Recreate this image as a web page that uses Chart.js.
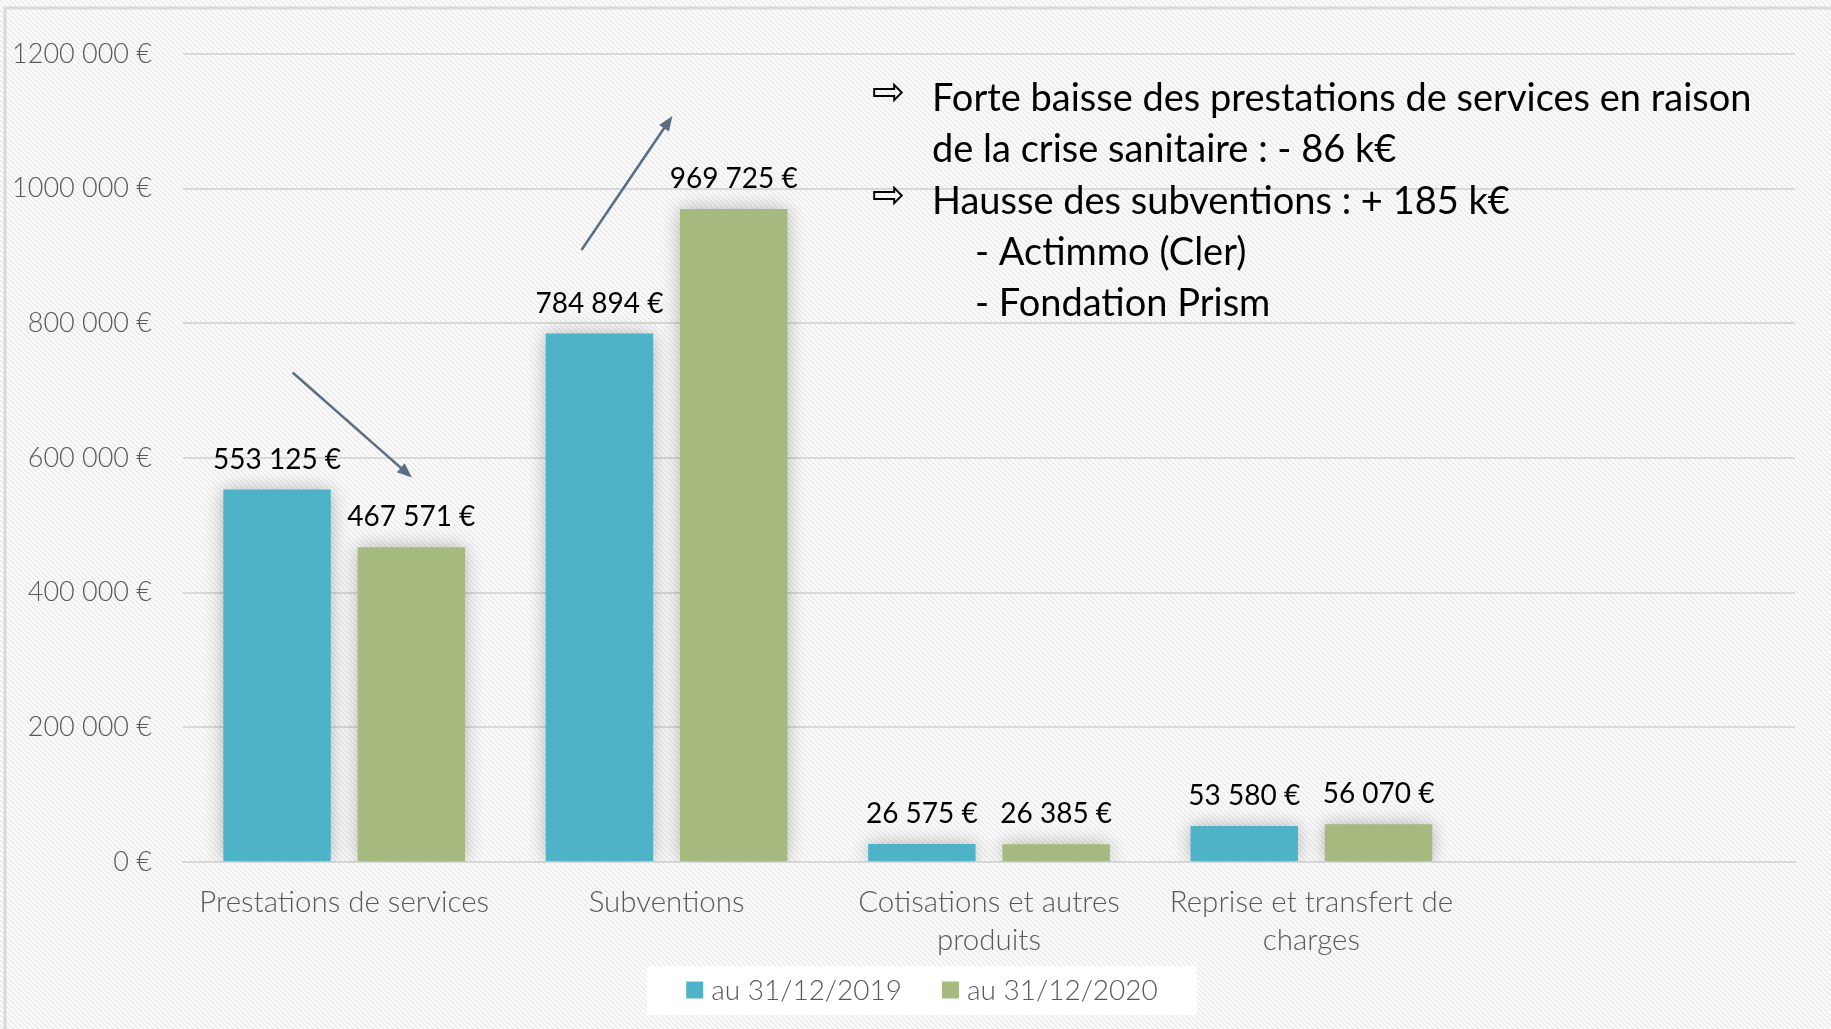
<!DOCTYPE html>
<html>
<head>
<meta charset="utf-8">
<script src="https://cdn.jsdelivr.net/npm/chart.js@4"></script>
<style>
  html, body { margin: 0; padding: 0; background: #fff; }
  #wrap { width: 1831px; height: 1029px; }
</style>
</head>
<body>
<div id="wrap"><canvas id="produitsChart" width="1831" height="1029"></canvas></div>
<script>
// données
const categories = [
    'Prestations de services',
    'Subventions',
    ['Cotisations et autres', 'produits'],
    ['Reprise et transfert de', 'charges'],
    ''
];
const values2019 = [553125, 784894, 26575, 53580, null];
const values2020 = [467571, 969725, 26385, 56070, null];
const seriesLabels = ['au 31/12/2019', 'au 31/12/2020'];
const yTicks = [0, 200000, 400000, 600000, 800000, 1000000, 1200000];

const noteLines = [
    { bullet: true, indent: 0, text: 'Forte baisse des prestations de services en raison' },
    { bullet: false, indent: 0, text: 'de la crise sanitaire : - 86 k€' },
    { bullet: true, indent: 0, text: 'Hausse des subventions : + 185 k€' },
    { bullet: false, indent: 1, text: '- Actimmo (Cler)' },
    { bullet: false, indent: 1, text: '- Fondation Prism' }
];

// flèches : [index catégorie, valeur] début -> fin
const trendArrows = [
    { from: [-0.16, 727000], to: [0.21, 571000] },
    { from: [0.736, 909000], to: [1.018, 1108000] }
];

const BLUE = '#4fb3c7';
const GREEN = '#a6b97e';
const GREY_TEXT = '#595959';
const GRID = '#d9d9d9';

// format Excel "# ##0 €"
function euro(v) {
    if (v === null || v === undefined) return '';
    if (v < 1000) return v + ' €';
    const k = Math.floor(v / 1000);
    const r = String(v % 1000).padStart(3, '0');
    return k + ' ' + r + ' €';
}

function makeHatch(ctx) {
    const c = document.createElement('canvas');
    c.width = 5; c.height = 5;
    const p = c.getContext('2d');
    p.fillStyle = '#fdfdfd';
    p.fillRect(0, 0, 5, 5);
    p.strokeStyle = '#e9e9e9';
    p.lineWidth = 1.4;
    p.beginPath();
    p.moveTo(-1, -1); p.lineTo(6, 6);
    p.moveTo(-1, 4); p.lineTo(1, 6);
    p.moveTo(4, -1); p.lineTo(6, 1);
    p.stroke();
    return ctx.createPattern(c, 'repeat');
}

const background = {
    id: 'background',
    beforeDraw(chart) {
        const ctx = chart.ctx;
        ctx.save();
        ctx.fillStyle = makeHatch(ctx);
        ctx.fillRect(0, 0, chart.width, chart.height);
        ctx.strokeStyle = GRID;
        ctx.lineWidth = 3;
        ctx.strokeRect(5, 8, chart.width + 20, chart.height + 20);
        ctx.restore();
    }
};

const barShadow = {
    id: 'barShadow',
    beforeDatasetsDraw(chart) {
        const ctx = chart.ctx;
        ctx.save();
        ctx.shadowColor = 'rgba(0,0,0,0.28)';
        ctx.shadowBlur = 18;
        ctx.shadowOffsetX = 0;
        ctx.shadowOffsetY = 0;
    },
    afterDatasetsDraw(chart) {
        chart.ctx.restore();
    }
};

const valueLabels = {
    id: 'valueLabels',
    afterDatasetsDraw(chart) {
        const ctx = chart.ctx;
        ctx.save();
        ctx.font = '28px Lato, "Noto Sans", sans-serif';
        ctx.fillStyle = '#000';
        ctx.textAlign = 'center';
        ctx.textBaseline = 'middle';
        chart.data.datasets.forEach((ds, i) => {
            chart.getDatasetMeta(i).data.forEach((bar, j) => {
                const v = ds.data[j];
                if (v === null) return;
                ctx.fillText(euro(v), bar.x, bar.y - 30);
            });
        });
        ctx.restore();
    }
};

const extras = {
    id: 'extras',
    afterDraw(chart) {
        const ctx = chart.ctx;
        const xs = chart.scales.x, ys = chart.scales.y;

        // flèches de tendance
        ctx.save();
        ctx.strokeStyle = '#5b6d82';
        ctx.fillStyle = '#5b6d82';
        ctx.lineWidth = 2.5;
        trendArrows.forEach(a => {
            const x1 = xs.getPixelForValue(a.from[0]), y1 = ys.getPixelForValue(a.from[1]);
            const x2 = xs.getPixelForValue(a.to[0]), y2 = ys.getPixelForValue(a.to[1]);
            const ang = Math.atan2(y2 - y1, x2 - x1);
            const head = 16;
            ctx.beginPath();
            ctx.moveTo(x1, y1);
            ctx.lineTo(x2 - Math.cos(ang) * head * 0.8, y2 - Math.sin(ang) * head * 0.8);
            ctx.stroke();
            ctx.beginPath();
            ctx.moveTo(x2, y2);
            ctx.lineTo(x2 - head * Math.cos(ang - 0.38), y2 - head * Math.sin(ang - 0.38));
            ctx.lineTo(x2 - head * Math.cos(ang + 0.38), y2 - head * Math.sin(ang + 0.38));
            ctx.closePath();
            ctx.fill();
        });
        ctx.restore();

        // texte de commentaire
        ctx.save();
        ctx.fillStyle = '#000';
        ctx.textBaseline = 'middle';
        ctx.textAlign = 'left';
        const textX = 932, bulletX = 872, indentX = 975;
        let y = 99;
        noteLines.forEach(line => {
            if (line.bullet) {
                ctx.font = '40px "DejaVu Sans", sans-serif';
                ctx.fillText('⇨', bulletX, y - 4);
            }
            ctx.font = '38px Lato, "Noto Sans", sans-serif';
            ctx.fillText(line.text, line.indent ? indentX : textX, y);
            y += 51.2;
        });
        ctx.restore();

        // légende
        ctx.save();
        ctx.font = '300 28px Lato, "Noto Sans", sans-serif';
        const box = 17, gapText = 8, gapItem = 40;
        const widths = seriesLabels.map(t => ctx.measureText(t).width);
        const total = widths.reduce((s, w) => s + box + gapText + w, 0) + gapItem * (seriesLabels.length - 1);
        const cy = 990;
        let x = 922 - total / 2;
        ctx.fillStyle = '#ffffff';
        ctx.fillRect(x - 39, cy - 24, total + 78, 49);
        ctx.textBaseline = 'middle';
        seriesLabels.forEach((t, i) => {
            ctx.fillStyle = chart.data.datasets[i].backgroundColor;
            ctx.fillRect(x, cy - box / 2, box, box);
            ctx.fillStyle = GREY_TEXT;
            ctx.fillText(t, x + box + gapText, cy + 1);
            x += box + gapText + widths[i] + gapItem;
        });
        ctx.restore();
    }
};

const yFont = { family: 'Lato, "Noto Sans", sans-serif', size: 27, weight: 300 };
const xFont = { family: 'Lato, "Noto Sans", sans-serif', size: 29.5, weight: 300, lineHeight: 1.3 };

new Chart(document.getElementById('produitsChart'), {
    type: 'bar',
    data: {
        labels: categories,
        datasets: [
            { label: seriesLabels[0], data: values2019, backgroundColor: BLUE },
            { label: seriesLabels[1], data: values2020, backgroundColor: GREEN }
        ]
    },
    options: {
        responsive: false,
        animation: false,
        devicePixelRatio: 1,
        layout: { padding: { left: 0, right: 36, top: 54, bottom: 0 } },
        datasets: { bar: { categoryPercentage: 0.833, barPercentage: 0.8 } },
        scales: {
            x: {
                grid: { display: false, drawTicks: false },
                border: { display: true, color: GRID, width: 2 },
                ticks: { color: GREY_TEXT, font: xFont, padding: 21, maxRotation: 0, autoSkip: false },
                afterFit(s) { s.height = 1029 - 54 - 808; }
            },
            y: {
                min: 0,
                max: 1200000,
                afterBuildTicks(s) { s.ticks = yTicks.map(v => ({ value: v })); },
                ticks: { callback: v => euro(v), color: GREY_TEXT, font: yFont, padding: 31 },
                grid: { color: GRID, lineWidth: 2, drawTicks: false },
                border: { display: false },
                afterFit(s) { s.width = 183; }
            }
        },
        plugins: {
            legend: { display: false },
            tooltip: { enabled: false }
        }
    },
    plugins: [background, barShadow, valueLabels, extras]
});
</script>
</body>
</html>
